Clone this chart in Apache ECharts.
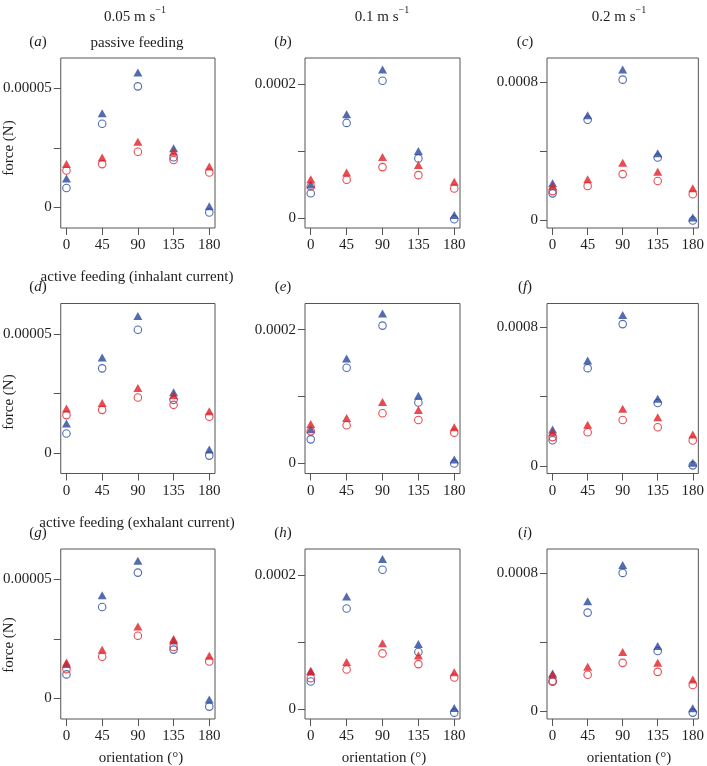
<!DOCTYPE html>
<html>
<head>
<meta charset="utf-8">
<script src="https://cdn.jsdelivr.net/npm/echarts@6/dist/echarts.min.js"></script>
<style>
  html, body { margin: 0; padding: 0; background: #fff; }
  #chart { width: 707px; height: 766px; }
</style>
</head>
<body>
<div id="chart"></div>
<script>
var orientations = [0, 45, 90, 135, 180];

// one row per panel, a..i
var blueTriangles = [
    [1.22e-5, 3.95e-5, 5.66e-5, 2.48e-5, 0.05e-5],
    [0.50e-4, 1.55e-4, 2.22e-4, 1.00e-4, 0.045e-4],
    [2.15e-4, 6.07e-4, 8.71e-4, 3.89e-4, 0.17e-4],
    [1.24e-5, 4.00e-5, 5.75e-5, 2.55e-5, 0.15e-5],
    [0.51e-4, 1.57e-4, 2.24e-4, 1.01e-4, 0.06e-4],
    [2.11e-4, 6.09e-4, 8.71e-4, 3.89e-4, 0.19e-4],
    [1.45e-5, 4.33e-5, 5.78e-5, 2.43e-5, -0.04e-5],
    [0.56e-4, 1.68e-4, 2.24e-4, 0.97e-4, 0.015e-4],
    [2.20e-4, 6.36e-4, 8.46e-4, 3.78e-4, 0.19e-4]
];
var blueCircles = [
    [0.82e-5, 3.51e-5, 5.08e-5, 2.11e-5, -0.21e-5],
    [0.37e-4, 1.42e-4, 2.05e-4, 0.89e-4, -0.02e-4],
    [1.57e-4, 5.82e-4, 8.13e-4, 3.64e-4, 0.00e-4],
    [0.82e-5, 3.55e-5, 5.17e-5, 2.23e-5, -0.11e-5],
    [0.36e-4, 1.43e-4, 2.06e-4, 0.91e-4, 0.00e-4],
    [1.49e-4, 5.65e-4, 8.19e-4, 3.64e-4, 0.04e-4],
    [1.01e-5, 3.84e-5, 5.28e-5, 2.05e-5, -0.34e-5],
    [0.41e-4, 1.50e-4, 2.08e-4, 0.85e-4, -0.055e-4],
    [1.72e-4, 5.71e-4, 8.00e-4, 3.49e-4, -0.06e-4]
];
var redTriangles = [
    [1.82e-5, 2.10e-5, 2.76e-5, 2.34e-5, 1.72e-5],
    [0.58e-4, 0.68e-4, 0.91e-4, 0.79e-4, 0.54e-4],
    [1.99e-4, 2.39e-4, 3.33e-4, 2.81e-4, 1.86e-4],
    [1.87e-5, 2.10e-5, 2.73e-5, 2.42e-5, 1.75e-5],
    [0.59e-4, 0.68e-4, 0.92e-4, 0.80e-4, 0.54e-4],
    [1.95e-4, 2.39e-4, 3.31e-4, 2.81e-4, 1.82e-4],
    [1.51e-5, 2.04e-5, 3.02e-5, 2.50e-5, 1.79e-5],
    [0.57e-4, 0.70e-4, 0.98e-4, 0.80e-4, 0.55e-4],
    [2.14e-4, 2.58e-4, 3.44e-4, 2.81e-4, 1.85e-4]
];
var redCircles = [
    [1.55e-5, 1.82e-5, 2.34e-5, 1.99e-5, 1.47e-5],
    [0.47e-4, 0.57e-4, 0.76e-4, 0.64e-4, 0.44e-4],
    [1.70e-4, 1.99e-4, 2.68e-4, 2.28e-4, 1.52e-4],
    [1.59e-5, 1.81e-5, 2.33e-5, 2.02e-5, 1.52e-5],
    [0.48e-4, 0.57e-4, 0.75e-4, 0.65e-4, 0.46e-4],
    [1.67e-4, 1.95e-4, 2.66e-4, 2.24e-4, 1.47e-4],
    [1.23e-5, 1.75e-5, 2.63e-5, 2.16e-5, 1.55e-5],
    [0.46e-4, 0.59e-4, 0.83e-4, 0.67e-4, 0.47e-4],
    [1.76e-4, 2.12e-4, 2.81e-4, 2.29e-4, 1.53e-4]
];

// per column
var yTicks = [[0, 0.000025, 0.00005], [0, 0.0001, 0.0002], [0, 0.0004, 0.0008]];
var yLabels = [[0, 0.00005], [0, 0.0002], [0, 0.0008]];
var yLimits = [[-0.86e-5, 6.27e-5], [-0.15e-4, 2.39e-4], [-0.43e-4, 9.38e-4]];

var speedTitles = ['0.05 m s', '0.1 m s', '0.2 m s'];
var rowTitles = ['passive feeding', 'active feeding (inhalant current)', 'active feeding (exhalant current)'];
var panelLetters = ['a', 'b', 'c', 'd', 'e', 'f', 'g', 'h', 'i'];

var BLUE = '#28479c';
var RED = '#e01f27';
var TXT = '#1e1e1e';
var FONT = '"Liberation Serif", "DejaVu Serif", serif';
var FS = 15;

var colLeft = [60, 305, 547];
var rowTop = [58, 303.5, 549];
var plotW = 155, plotH = 170;

var grids = [], xAxes = [], yAxes = [], series = [], graphics = [];

for (var p = 0; p < 9; p++) {
    var r = Math.floor(p / 3), c = p % 3;
    grids.push({
        left: colLeft[c], top: rowTop[r], width: plotW, height: plotH,
        show: true, borderColor: '#555', borderWidth: 1, backgroundColor: 'transparent'
    });
    xAxes.push({
        type: 'value', gridIndex: p, min: -7.2, max: 187.2,
        axisLine: { show: false, onZero: false },
        axisTick: { show: true, length: 7, customValues: orientations, lineStyle: { color: '#555' } },
        axisLabel: { customValues: orientations, margin: 10, color: TXT, fontFamily: FONT, fontSize: FS },
        splitLine: { show: false }
    });
    yAxes.push({
        type: 'value', gridIndex: p, min: yLimits[c][0], max: yLimits[c][1],
        axisLine: { show: false, onZero: false },
        axisTick: { show: true, length: 7, customValues: yTicks[c], lineStyle: { color: '#555' } },
        axisLabel: {
            customValues: yLabels[c], margin: 9, color: TXT, fontFamily: FONT, fontSize: FS,
            formatter: function (v) { return v === 0 ? '0' : String(v); }
        },
        splitLine: { show: false }
    });
    var pts = function (arr) {
        return orientations.map(function (o, i) { return [o, arr[i]]; });
    };
    series.push({
        type: 'scatter', xAxisIndex: p, yAxisIndex: p, data: pts(blueTriangles[p]),
        symbol: 'triangle', symbolSize: [9, 8], itemStyle: { color: BLUE }, silent: true
    });
    series.push({
        type: 'scatter', xAxisIndex: p, yAxisIndex: p, data: pts(blueCircles[p]),
        symbol: 'circle', symbolSize: 7.5,
        itemStyle: { color: 'rgba(0,0,0,0)', borderColor: BLUE, borderWidth: 1.1 }, silent: true
    });
    series.push({
        type: 'scatter', xAxisIndex: p, yAxisIndex: p, data: pts(redTriangles[p]),
        symbol: 'triangle', symbolSize: [9, 8], itemStyle: { color: RED }, silent: true
    });
    series.push({
        type: 'scatter', xAxisIndex: p, yAxisIndex: p, data: pts(redCircles[p]),
        symbol: 'circle', symbolSize: 7.5,
        itemStyle: { color: 'rgba(0,0,0,0)', borderColor: RED, borderWidth: 1.1 }, silent: true
    });

    // panel letter like (a)
    graphics.push({
        type: 'text', x: colLeft[c] - 22, y: rowTop[r] - 16,
        style: {
            text: '({it|' + panelLetters[p] + '})', fill: TXT, font: FS + 'px ' + FONT,
            align: 'center', verticalAlign: 'middle',
            rich: { it: { fontStyle: 'italic', fontSize: FS, fontFamily: FONT, fill: TXT } }
        }
    });
}

function centerText(txt, x, y, extra) {
    var g = {
        type: 'text', x: x, y: y,
        style: { text: txt, fill: TXT, font: FS + 'px ' + FONT, align: 'center', verticalAlign: 'middle' }
    };
    if (extra) for (var k in extra) g[k] = extra[k];
    return g;
}

var colCenters = [135, 382, 619];
for (var c2 = 0; c2 < 3; c2++) {
    graphics.push({
        type: 'text', x: colCenters[c2], y: 15,
        style: {
            text: '{n|' + speedTitles[c2] + '}{s|−1}', align: 'center', verticalAlign: 'middle',
            rich: {
                n: { fontSize: FS, fontFamily: FONT, fill: TXT, lineHeight: 19, verticalAlign: 'bottom' },
                s: { fontSize: 10, fontFamily: FONT, fill: TXT, lineHeight: 10, verticalAlign: 'top' }
            }
        }
    });
    graphics.push(centerText('orientation (°)', [141, 384, 629][c2], 758));
}
graphics.push(centerText(rowTitles[0], 137, 43));
graphics.push(centerText(rowTitles[1], 137, 277));
graphics.push(centerText(rowTitles[2], 137, 523));
[148, 402, 645].forEach(function (yy) {
    graphics.push(centerText('force (N)', 9, yy, { rotation: Math.PI / 2 }));
});

var chart = echarts.init(document.getElementById('chart'), null, { renderer: 'canvas' });
chart.setOption({
    animation: false,
    backgroundColor: '#fff',
    grid: grids,
    xAxis: xAxes,
    yAxis: yAxes,
    series: series,
    graphic: graphics
});
</script>
</body>
</html>
